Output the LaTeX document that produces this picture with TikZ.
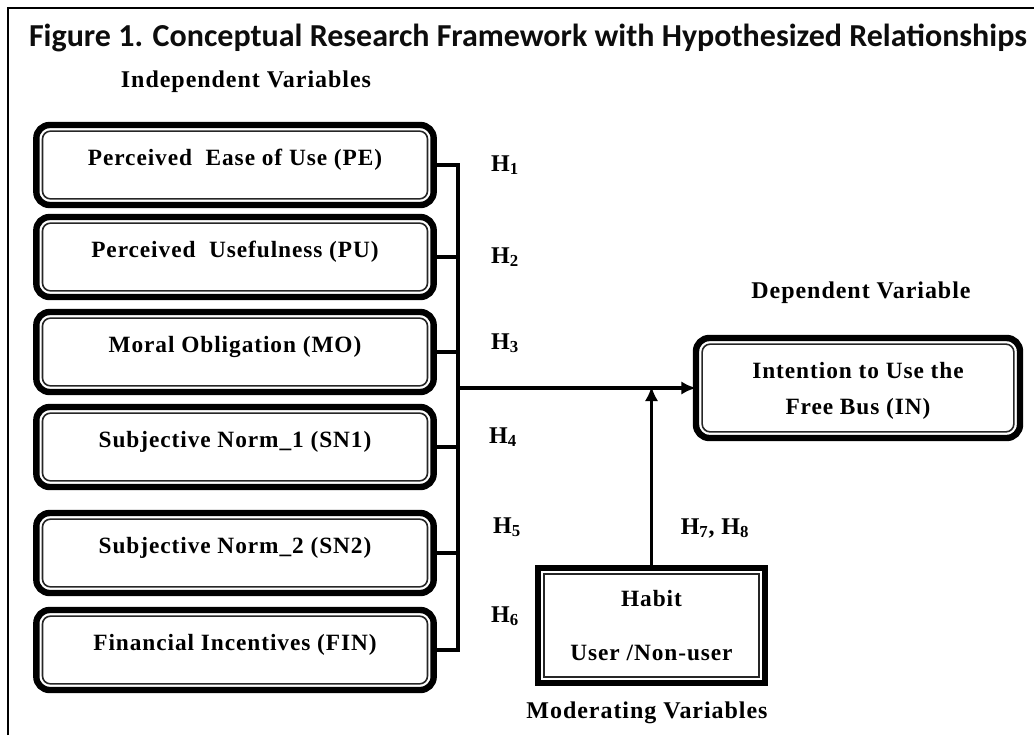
\documentclass[tikz,border=0pt]{standalone}
\usepackage{fontspec}
\setmainfont[LetterSpace=4]{Liberation Serif}
\newfontfamily\titlefont{Carlito}
\usetikzlibrary{arrows.meta}

\begin{document}
\begin{tikzpicture}[
  x=0.75pt,
  y=-0.75pt,
  font=\fontsize{17.5}{20}\selectfont\bfseries,
  varbox/.style={draw, line width=4.8pt, outer sep=0pt, rounded corners=10pt,
    minimum width=298pt, minimum height=60pt, inner sep=0pt, text depth=12pt},
  habitbox/.style={draw, line width=4.5pt, outer sep=0pt, minimum width=170pt,
    minimum height=86pt, inner sep=0pt, align=center},
  innerline/.style={draw=black!85, line width=1.2pt},
  link/.style={line width=2.4pt},
  bus/.style={line width=3pt},
  arr/.style={-{Latex[length=11pt,width=10pt]}, line width=2.6pt},
  caption/.style={font=\fontsize{18}{20}\selectfont\bfseries},
  hlabel/.style={font=\fontsize{18}{20}\selectfont\bfseries}
]
\useasboundingbox (0,0) rectangle (1034,735);
\draw[line width=1.5pt] (8,735) -- (8,8) -- (1034,8);

\node[anchor=base, font=\titlefont\fontsize{24}{28}\selectfont\bfseries, text=black!95] (title)
  at (528,47) {Figure 1. Conceptual Research Framework with Hypothesized Relationships};
\node[caption, anchor=base] (indep) at (246,88) {Independent Variables};
\node[caption, anchor=base] (dep) at (861,298) {Dependent Variable};
\node[caption, anchor=base] (moder) at (647,718) {Moderating Variables};

% independent variables
\node[varbox] (pe) at (235,165) {Perceived\ \ Ease of Use (PE)};
\node[varbox] (pu) at (235,257) {Perceived\ \ Usefulness (PU)};
\node[varbox] (mo) at (235,352) {Moral Obligation (MO)};
\node[varbox] (sn1) at (235,447) {Subjective Norm\_1 (SN1)};
\node[varbox] (sn2) at (235,553) {Subjective Norm\_2 (SN2)};
\node[varbox] (fin) at (235,650) {Financial Incentives (FIN)};

% dependent and moderating variables
\node[varbox, minimum width=243pt, minimum height=75pt, text depth=-3pt,
  align=center] (in) at (858,388) {Intention to Use the\\[7pt]Free Bus (IN)};
\node[habitbox] (habit) at (651.5,625.5) {Habit\\[21pt]User /Non-user};

\foreach \n in {pe,pu,mo,sn1,sn2,fin,in}
  \draw[innerline, rounded corners=6pt] ([shift={(4.6pt,-4.6pt)}]\n.north west)
    rectangle ([shift={(-4.6pt,4.6pt)}]\n.south east);
\draw[innerline] ([shift={(4.2pt,-4.2pt)}]habit.north west)
  rectangle ([shift={(-4.2pt,4.2pt)}]habit.south east);

% connectors
\coordinate (busmid) at (458,388);
\draw[bus] (pe.east) -| (fin.east -| busmid) -- (fin.east);
\foreach \n in {pu,mo,sn1,sn2}
  \draw[link] (\n.east) -- (\n.east -| busmid);
\draw[arr] (busmid) -- (in.west);
\draw[arr] (habit.north) -- ([yshift=1.2pt]habit.north |- busmid);

% hypotheses
\node[hlabel] (h1) at (505,165) {H\textsubscript{1}};
\node[hlabel] (h2) at (505,257) {H\textsubscript{2}};
\node[hlabel] (h3) at (505,343) {H\textsubscript{3}};
\node[hlabel] (h4) at (503,437) {H\textsubscript{4}};
\node[hlabel] (h5) at (507,527) {H\textsubscript{5}};
\node[hlabel] (h6) at (505,616) {H\textsubscript{6}};
\node[hlabel] (h78) at (715,528) {H\textsubscript{7}, H\textsubscript{8}};
\end{tikzpicture}
\end{document}
